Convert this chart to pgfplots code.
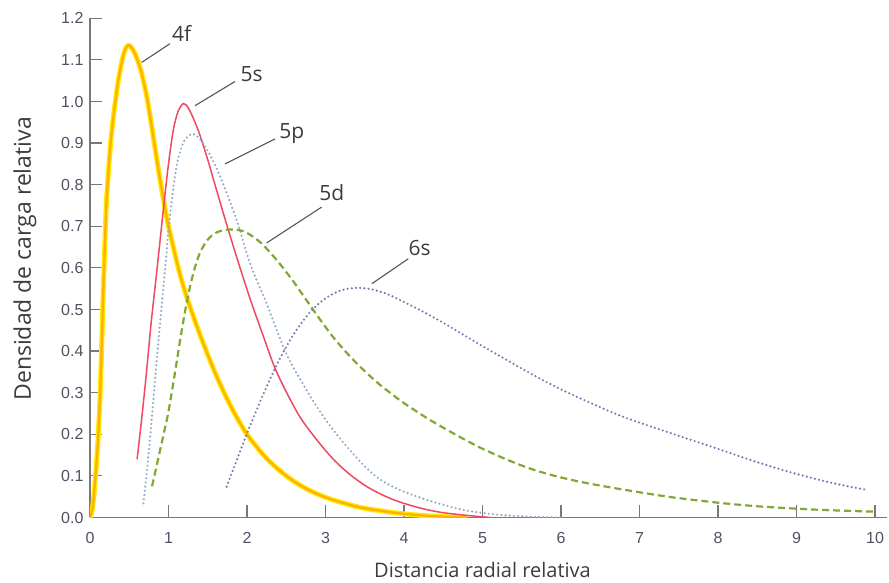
\documentclass[border=0pt]{standalone}
\usepackage{fontspec}
\setmainfont{Open Sans}
\newfontfamily\tickfont{Liberation Sans}
\usepackage{pgfplots}
\pgfplotsset{compat=1.18}
\usepackage{pgfplotstable}

\definecolor{axisgray}{RGB}{120,120,120}
\definecolor{tickgray}{RGB}{80,80,100}
\definecolor{labelgray}{RGB}{60,60,60}
\definecolor{leadergray}{RGB}{85,85,85}
\definecolor{halo}{RGB}{255,232,0}
\definecolor{core}{RGB}{255,176,0}
\definecolor{red5s}{RGB}{240,72,96}
\definecolor{blue5p}{RGB}{145,170,200}
\definecolor{green5d}{RGB}{128,168,50}
\definecolor{violet6s}{RGB}{120,120,178}

% radial charge density, orbital 4f
\pgfplotstableread{
x y
0.00 0.000
0.03 0.020
0.06 0.075
0.10 0.180
0.13 0.300
0.15 0.420
0.17 0.550
0.19 0.660
0.21 0.760
0.25 0.870
0.29 0.950
0.36 1.050
0.43 1.115
0.49 1.135
0.56 1.120
0.64 1.080
0.72 1.015
0.79 0.935
0.86 0.850
0.93 0.770
1.00 0.700
1.08 0.635
1.16 0.575
1.25 0.520
1.40 0.440
1.60 0.345
1.80 0.265
2.00 0.200
2.25 0.142
2.50 0.100
2.70 0.075
2.90 0.056
3.10 0.042
3.30 0.031
3.50 0.022
3.90 0.011
4.30 0.004
4.80 0.000
}\tabfourf

% orbital 5s
\pgfplotstableread{
x y
0.60 0.140
0.66 0.240
0.72 0.350
0.78 0.470
0.85 0.590
0.94 0.750
1.00 0.850
1.06 0.930
1.12 0.975
1.19 0.995
1.26 0.982
1.38 0.930
1.50 0.860
1.60 0.795
1.74 0.705
1.90 0.607
2.05 0.520
2.20 0.440
2.35 0.362
2.50 0.302
2.68 0.240
2.90 0.184
3.10 0.140
3.30 0.105
3.52 0.075
3.75 0.052
3.95 0.037
4.20 0.023
4.45 0.013
4.75 0.006
5.10 0.000
}\tabfives

% orbital 5p
\pgfplotstableread{
x y
0.68 0.034
0.73 0.120
0.785 0.234
0.87 0.420
0.955 0.594
1.00 0.690
1.06 0.790
1.12 0.860
1.20 0.905
1.30 0.922
1.40 0.910
1.49 0.885
1.60 0.845
1.70 0.800
1.87 0.714
2.04 0.610
2.25 0.514
2.50 0.394
2.70 0.325
2.89 0.266
3.10 0.210
3.31 0.162
3.50 0.123
3.69 0.092
3.95 0.066
4.33 0.040
4.76 0.018
5.18 0.007
5.60 0.002
6.00 0.000
}\tabfivep

% orbital 5d
\pgfplotstableread{
x y
0.79 0.075
0.85 0.125
0.92 0.185
1.00 0.255
1.08 0.345
1.16 0.440
1.24 0.525
1.32 0.590
1.40 0.636
1.50 0.668
1.61 0.685
1.75 0.692
1.90 0.691
2.00 0.684
2.10 0.672
2.20 0.656
2.30 0.636
2.40 0.614
2.50 0.590
2.60 0.565
2.70 0.538
2.80 0.511
2.90 0.484
3.00 0.458
3.10 0.433
3.25 0.400
3.40 0.370
3.55 0.343
3.70 0.318
3.85 0.296
4.00 0.275
4.30 0.238
4.65 0.200
4.97 0.168
5.30 0.140
5.60 0.118
5.90 0.101
6.24 0.086
6.55 0.075
6.86 0.065
7.40 0.049
8.03 0.035
8.50 0.027
9.02 0.021
9.50 0.017
10.0 0.014
}\tabfived

% orbital 6s
\pgfplotstableread{
x y
1.74 0.074
1.87 0.138
2.00 0.202
2.20 0.293
2.40 0.375
2.60 0.442
2.80 0.493
3.00 0.527
3.20 0.546
3.40 0.552
3.60 0.548
3.80 0.536
4.00 0.518
4.25 0.494
4.50 0.468
4.75 0.440
5.00 0.412
5.25 0.385
5.50 0.358
5.75 0.332
6.00 0.308
6.25 0.286
6.50 0.265
6.75 0.245
7.00 0.228
7.30 0.209
7.60 0.190
8.00 0.165
8.45 0.136
8.90 0.110
9.30 0.090
9.60 0.077
9.91 0.066
}\tabsixs

\begin{document}
\begin{tikzpicture}
\begin{axis}[
  name=ax,
  scale only axis,
  width=785pt, height=499.2pt,
  xmin=0, xmax=10, ymin=0, ymax=1.2,
  axis lines*=left,
  axis line style={draw=axisgray, line width=1.4pt},
  x axis line style={shorten >=-12pt},
  every tick/.style={draw=axisgray, line width=1.2pt},
  major tick length=12pt,
  tick align=inside,
  xtick={0,1,2,3,4,5,6,7,8,9,10},
  xticklabels={0,1,2,3,4,5,6,7,8,9,10},
  ytick={0,0.1,0.2,0.3,0.4,0.5,0.6,0.7,0.8,0.9,1.0,1.1,1.2},
  yticklabels={0.0,0.1,0.2,0.3,0.4,0.5,0.6,0.7,0.8,0.9,1.0,1.1,1.2},
  ticklabel style={font=\tickfont\fontsize{16}{16}\selectfont, text=tickgray},
  xticklabel style={yshift=-11pt},
  yticklabel style={xshift=-3pt},
  xlabel={Distancia radial relativa},
  ylabel={Densidad de carga relativa},
  label style={text=labelgray},
  xlabel style={font=\fontsize{20}{20}\selectfont, at={(axis description cs:0.5,-0.105)}, anchor=center},
  ylabel style={font=\fontsize{23}{23}\selectfont, at={(axis description cs:-0.083,0.518)}, anchor=center},
  clip mode=individual,
]
% 4f: yellow halo with orange core
\addplot[halo, line width=5pt, smooth, tension=0.5] table {\tabfourf};
\addplot[core, line width=2.2pt, smooth, tension=0.5] table {\tabfourf};
\addplot[red5s, line width=1.5pt, smooth, tension=0.5] table {\tabfives};
\addplot[blue5p, line width=2.4pt, line cap=round, dash pattern=on 0pt off 4.2pt, smooth, tension=0.5] table {\tabfivep};
\addplot[green5d, line width=2.2pt, dash pattern=on 7pt off 4pt, smooth, tension=0.5] table {\tabfived};
\addplot[violet6s, line width=2.4pt, line cap=round, dash pattern=on 0pt off 4.2pt, smooth, tension=0.5] table {\tabsixs};

% leader lines and orbital names
\draw[leadergray, line width=1.1pt] (axis cs:0.659,1.094) -- (axis cs:1.019,1.139);
\draw[leadergray, line width=1.1pt] (axis cs:1.338,0.990) -- (axis cs:1.847,1.048);
\draw[leadergray, line width=1.1pt] (axis cs:1.720,0.850) -- (axis cs:2.357,0.910);
\draw[leadergray, line width=1.1pt] (axis cs:2.250,0.660) -- (axis cs:2.950,0.746);
\draw[leadergray, line width=1.1pt] (axis cs:3.590,0.562) -- (axis cs:4.055,0.622);
\begin{scope}[every node/.style={font=\fontsize{21}{21}\selectfont, text=labelgray, anchor=base, inner sep=0pt}]
\node at (axis cs:1.168,1.144) {4f};
\node at (axis cs:2.060,1.048) {5s};
\node at (axis cs:2.570,0.912) {5p};
\node at (axis cs:3.080,0.762) {5d};
\node at (axis cs:4.200,0.630) {6s};
\end{scope}
\end{axis}
% fixed canvas around the axis
\path ([xshift=-90pt,yshift=-65.5pt]ax.south west) rectangle ([xshift=799pt,yshift=517.5pt]ax.south west);
\end{tikzpicture}
\end{document}
